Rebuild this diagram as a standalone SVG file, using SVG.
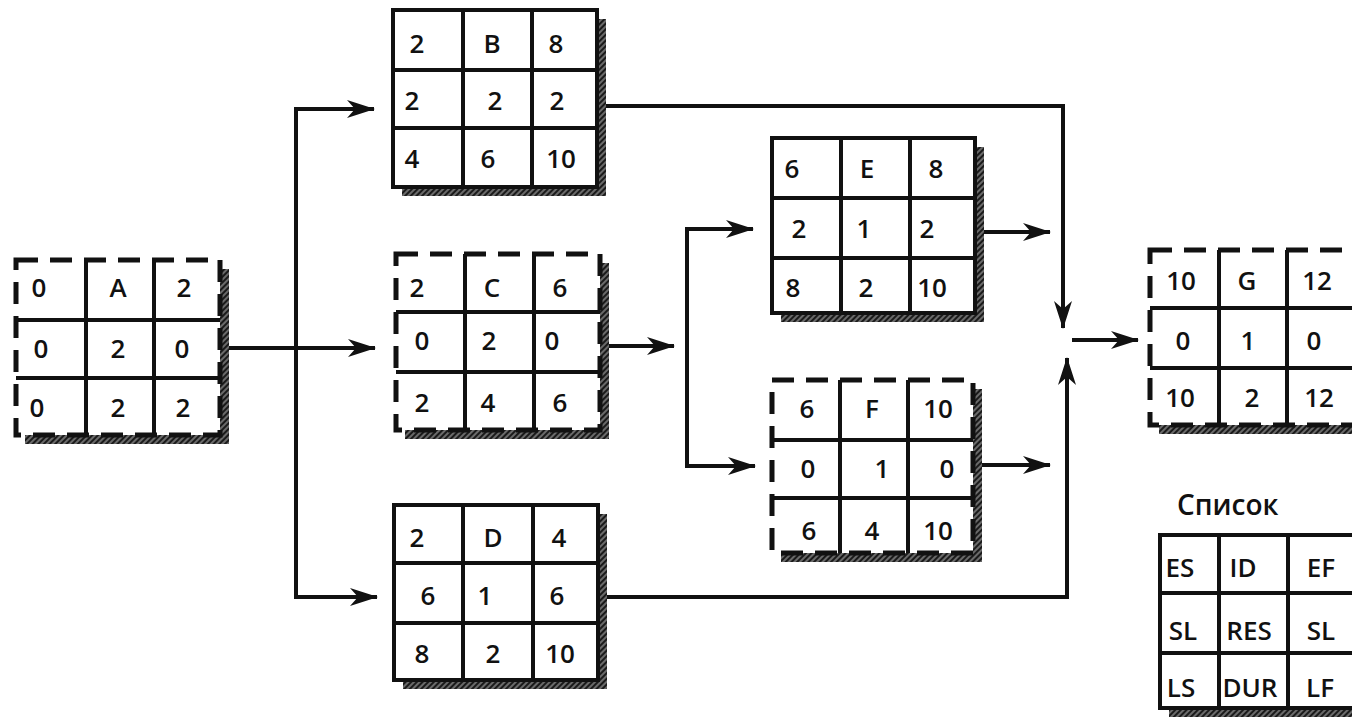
<svg xmlns="http://www.w3.org/2000/svg" width="1352" height="719" viewBox="0 0 1352 719">
<style>
.bg{fill:#fff}
.sh{fill:url(#hatch)}
.grid{fill:none;stroke:#111;stroke-width:4}
.bd{fill:none;stroke:#111;stroke-width:4}
.ds{fill:none;stroke:#111;stroke-width:5;stroke-dasharray:22 12}
text{font-family:"Open Sans","DejaVu Sans",sans-serif;font-size:26px;font-weight:600;fill:#111;text-anchor:middle}
.conn path{fill:none;stroke:#111;stroke-width:4;marker-end:url(#arr)}
</style>
<defs>
<pattern id="hatch" width="4" height="4" patternUnits="userSpaceOnUse" patternTransform="rotate(45)">
<rect width="4" height="4" fill="#6a6a6a"/><rect width="2" height="4" fill="#1a1a1a"/>
</pattern>
<marker id="arr" markerUnits="userSpaceOnUse" viewBox="0 0 28 18" markerWidth="28" markerHeight="18" refX="27" refY="9" orient="auto">
<path d="M0,0 L28,9 L0,18 L8,9 Z" fill="#111"/>
</marker>
</defs>
<rect width="1352" height="719" fill="#fff"/>

<g class="conn" id="connectors">
<path d="M228,348 H375"/>
<path d="M296,348 V109 H374"/>
<path d="M296,348 V597 H377"/>
<path d="M608,346 H674"/>
<path d="M687,346 V229 H753"/>
<path d="M687,346 V466 H755"/>
<path d="M606,106 H1063 V328"/>
<path d="M606,597 H1067 V358"/>
<path d="M984,232 H1050"/>
<path d="M982,465 H1050"/>
<path d="M1072,340 H1138"/>
</g>

<g id="node-A">
<rect class="sh" x="25" y="269" width="204" height="175"/>
<rect class="bg" x="16" y="260" width="204" height="175"/>
<path class="grid" d="M86,260 V435 M154,260 V435 M16,320 H220 M16,378 H220"/>
<rect class="ds" x="16" y="260" width="204" height="175"/>
<text x="39" y="297">0</text><text x="118" y="297">A</text><text x="184" y="297">2</text>
<text x="41" y="358">0</text><text x="118" y="358">2</text><text x="182" y="358">0</text>
<text x="37" y="417">0</text><text x="118" y="417">2</text><text x="183" y="417">2</text>
</g>

<g id="node-B">
<rect class="sh" x="402" y="19" width="204" height="177"/>
<rect class="bg" x="393" y="10" width="204" height="177"/>
<path class="grid" d="M463,10 V187 M532,10 V187 M393,70 H597 M393,128 H597"/>
<rect class="bd" x="393" y="10" width="204" height="177"/>
<text x="417" y="53">2</text><text x="492" y="53">B</text><text x="556" y="53">8</text>
<text x="412" y="110">2</text><text x="495" y="110">2</text><text x="557" y="110">2</text>
<text x="412" y="168">4</text><text x="488" y="168">6</text><text x="561" y="168">10</text>
</g>

<g id="node-C">
<rect class="sh" x="405" y="263" width="204" height="176"/>
<rect class="bg" x="396" y="254" width="204" height="176"/>
<path class="grid" d="M465,254 V430 M534,254 V430 M396,312 H600 M396,372 H600"/>
<rect class="ds" x="396" y="254" width="204" height="176"/>
<text x="417" y="297">2</text><text x="492" y="297">C</text><text x="560" y="297">6</text>
<text x="422" y="350">0</text><text x="489" y="350">2</text><text x="552" y="350">0</text>
<text x="422" y="412">2</text><text x="488" y="412">4</text><text x="560" y="412">6</text>
</g>

<g id="node-D">
<rect class="sh" x="403" y="514" width="204" height="175"/>
<rect class="bg" x="394" y="505" width="204" height="175"/>
<path class="grid" d="M463,505 V680 M533,505 V680 M394,563 H598 M394,623 H598"/>
<rect class="bd" x="394" y="505" width="204" height="175"/>
<text x="417" y="547">2</text><text x="493" y="547">D</text><text x="559" y="547">4</text>
<text x="428" y="605">6</text><text x="485" y="605">1</text><text x="557" y="605">6</text>
<text x="422" y="663">8</text><text x="493" y="663">2</text><text x="560" y="663">10</text>
</g>

<g id="node-E">
<rect class="sh" x="781" y="147" width="203" height="175"/>
<rect class="bg" x="772" y="138" width="203" height="175"/>
<path class="grid" d="M841,138 V313 M910,138 V313 M772,198 H975 M772,258 H975"/>
<rect class="bd" x="772" y="138" width="203" height="175"/>
<text x="792" y="178">6</text><text x="867" y="178">E</text><text x="936" y="178">8</text>
<text x="799" y="238">2</text><text x="864" y="238">1</text><text x="927" y="238">2</text>
<text x="793" y="297">8</text><text x="866" y="297">2</text><text x="932" y="297">10</text>
</g>

<g id="node-F">
<rect class="sh" x="781" y="389" width="201" height="173"/>
<rect class="bg" x="772" y="380" width="201" height="173"/>
<path class="grid" d="M840,380 V553 M908,380 V553 M772,440 H973 M772,498 H973"/>
<rect class="ds" x="772" y="380" width="201" height="173"/>
<text x="807" y="418">6</text><text x="872" y="418">F</text><text x="938" y="418">10</text>
<text x="808" y="478">0</text><text x="882" y="478">1</text><text x="947" y="478">0</text>
<text x="809" y="540">6</text><text x="872" y="540">4</text><text x="938" y="540">10</text>
</g>

<g id="node-G">
<rect class="sh" x="1159" y="259" width="206" height="175"/>
<rect class="bg" x="1150" y="250" width="206" height="175"/>
<path class="grid" d="M1219,250 V425 M1287,250 V425 M1150,308 H1356 M1150,368 H1356"/>
<rect class="ds" x="1150" y="250" width="206" height="175"/>
<text x="1181" y="290">10</text><text x="1247" y="290">G</text><text x="1317" y="290">12</text>
<text x="1183" y="350">0</text><text x="1248" y="350">1</text><text x="1314" y="350">0</text>
<text x="1180" y="407">10</text><text x="1252" y="407">2</text><text x="1319" y="407">12</text>
</g>

<g id="legend">
<text x="1177" y="515" style="text-anchor:start;font-size:28px">Список</text>
<rect class="sh" x="1169" y="544" width="197" height="173"/>
<rect class="bg" x="1160" y="535" width="197" height="173"/>
<path class="grid" d="M1219,535 V708 M1288,535 V708 M1160,593 H1357 M1160,653 H1357"/>
<rect class="bd" x="1160" y="535" width="197" height="173"/>
<text x="1180" y="577">ES</text><text x="1243" y="577">ID</text><text x="1321" y="577">EF</text>
<text x="1183" y="640">SL</text><text x="1249" y="640">RES</text><text x="1321" y="640">SL</text>
<text x="1181" y="697">LS</text><text x="1250" y="697">DUR</text><text x="1320" y="697">LF</text>
</g>
</svg>
